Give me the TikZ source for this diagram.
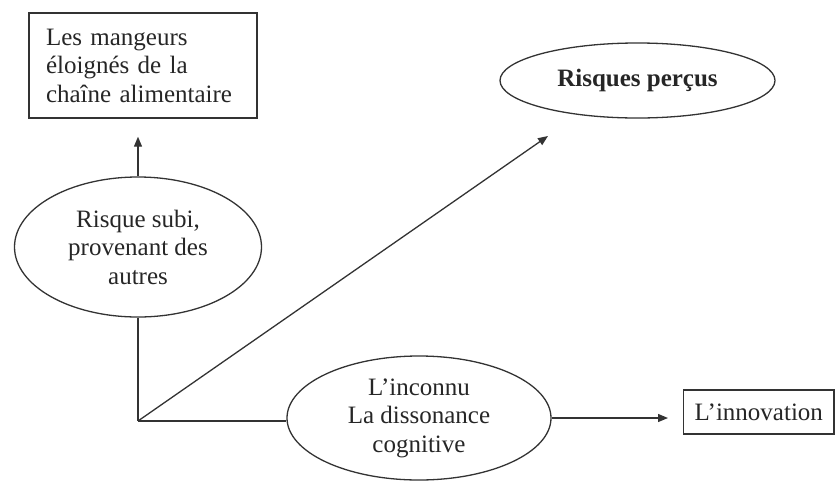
\documentclass[tikz,border=0pt]{standalone}
\usepackage{fontspec}
\setmainfont{Liberation Serif}
\usetikzlibrary{shapes.geometric,arrows.meta}
\tikzset{
  ln/.style={draw=black!80, line width=1.3pt},
  arr/.style={ln, -{Triangle[length=10pt,width=8pt]}},
  box/.style={draw=black!80, line width=1.4pt, rectangle, inner sep=0pt},
  ell/.style={draw=black!80, line width=1.3pt, ellipse, inner sep=0pt, align=center},
  txt/.style={font=\fontsize{25}{28.5}\selectfont, text=black!85}
}
\begin{document}
\begin{tikzpicture}[x=1pt,y=-1pt]
\useasboundingbox (0,0) rectangle (836,480);
\node[box, txt, minimum width=228pt, minimum height=105pt, text width=194pt, align=left] (mang) at (143,65.5)
  {Les mangeurs\\éloignés de la\\chaîne alimentaire};
\node[ell, txt, minimum width=247pt, minimum height=140pt] (subi) at (138,247)
  {Risque subi,\\provenant des\\autres};
\node[ell, txt, minimum width=275pt, minimum height=75pt] (percus) at (637.5,80.5)
  {\bfseries Risques perçus};
\node[ell, txt, minimum width=264pt, minimum height=124pt] (inconnu) at (419,418)
  {L'inconnu\\La dissonance\\cognitive};
\node[box, txt, anchor=west, minimum height=44pt, inner xsep=11pt] (innov) at (683,412)
  {L'innovation};
\coordinate (corner) at (138,421);
\coordinate (tip) at (548,136);
\draw[arr, shorten >=18pt] (subi.north) -- (subi.north |- mang.south);
\draw[ln] (subi.south) -- (corner);
\draw[ln] (corner) -- (corner -| inconnu.west);
\draw[arr] (corner) -- (tip);
\draw[arr, shorten >=15pt] (inconnu.east) -- (inconnu.east -| innov.west);
\end{tikzpicture}
\end{document}
